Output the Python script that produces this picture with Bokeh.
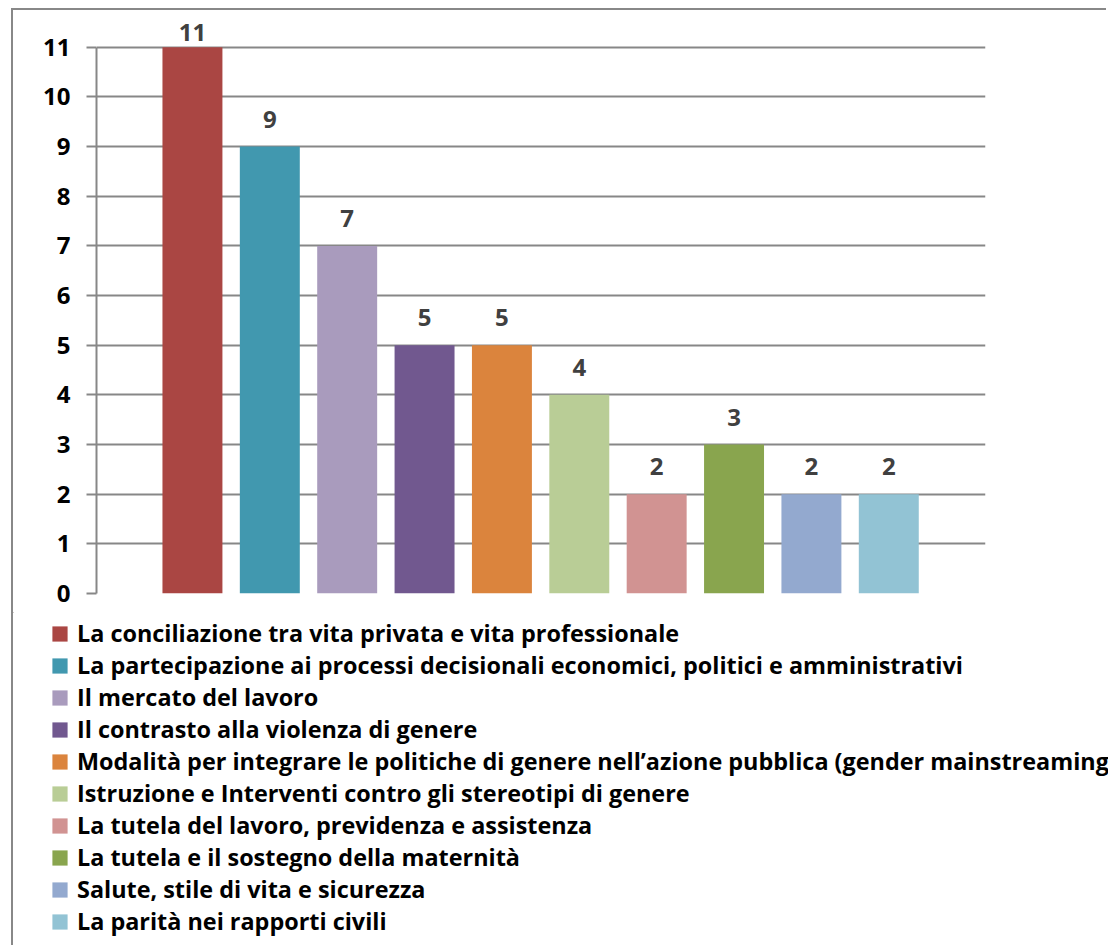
from bokeh.plotting import figure
from bokeh.models import ColumnDataSource, Legend, LegendItem, Range1d, FixedTicker
from bokeh.core.properties import value
from bokeh.embed import file_html
from bokeh.resources import INLINE

categories = [
    "La conciliazione tra vita privata e vita professionale",
    "La partecipazione ai processi decisionali economici, politici e amministrativi",
    "Il mercato del lavoro",
    "Il contrasto alla violenza di genere",
    "Modalità per integrare le politiche di genere nell\u2019azione pubblica (gender mainstreaming)",
    "Istruzione e Interventi contro gli stereotipi di genere",
    "La tutela del lavoro, previdenza e assistenza",
    "La tutela e il sostegno della maternità",
    "Salute, stile di vita e sicurezza",
    "La parità nei rapporti civili",
]
counts = [11, 9, 7, 5, 5, 4, 2, 3, 2, 2]
colors = ["#AA4643", "#4198AF", "#A99BBD", "#71588F", "#DB843D",
          "#B9CD96", "#D19392", "#89A54E", "#93A9CF", "#92C3D4"]
y_ticks = list(range(0, 12))

FONT = "Open Sans"
FS = "24px"
LEG_FS = "23.4px"
BORDER = "2px solid #888888"

# plot geometry
PH = 604
FRAME_H = 583
Y_END = 11.74
ppu = FRAME_H / Y_END
CAP = 17        # digit height in px
TOP_PAD = 12    # keep labels inside the chart area
GAP = 20        # normal gap between bar top and label


def label_offset(c):
    room = (Y_END - c) * ppu - CAP - TOP_PAD
    gap = min(GAP, max(room, 2))
    return -(gap - 1)


x = list(range(len(categories)))
src = ColumnDataSource(dict(x=x, top=counts, color=colors, cat=categories,
                            lbl=[str(c) for c in counts],
                            off=[label_offset(c) for c in counts]))

# ---- chart ----
p = figure(width=1095, height=PH, output_backend="svg", toolbar_location=None,
           x_axis_location=None,
           x_range=Range1d(-1.24, 10.25), y_range=Range1d(0, Y_END),
           min_border_left=83, min_border_right=123, min_border_top=0,
           min_border_bottom=PH - FRAME_H)
p.outline_line_color = None
p.styles = {"margin-left": "11px", "margin-top": "8px",
            "border-left": BORDER, "border-top": BORDER}

p.vbar(x="x", top="top", width=0.775, bottom=0, fill_color="color",
       line_color=None, source=src)

p.text(x="x", y="top", text="lbl", source=src, text_align="center",
       text_baseline="bottom", y_offset="off", text_color="#404040",
       text_font=value(FONT), text_font_style="bold", text_font_size=FS)

p.xgrid.visible = False
p.ygrid.grid_line_color = "#878787"
p.ygrid.grid_line_width = 2
p.yaxis.ticker = FixedTicker(ticks=y_ticks)
p.yaxis.bounds = (y_ticks[0], y_ticks[-1])
p.yaxis.minor_tick_line_color = None
p.yaxis.major_tick_in = 0
p.yaxis.major_tick_out = 10
p.yaxis.major_tick_line_color = "#878787"
p.yaxis.major_tick_line_width = 2
p.yaxis.axis_line_color = "#878787"
p.yaxis.axis_line_width = 2
p.yaxis.major_label_standoff = 16
p.yaxis.major_label_text_font = FONT
p.yaxis.major_label_text_font_style = "bold"
p.yaxis.major_label_text_font_size = FS
p.yaxis.major_label_text_color = "#000000"

# ---- legend (own canvas so that it is not clipped) ----
LH = 333
lp = figure(width=1095, height=LH, output_backend="svg", toolbar_location=None,
            x_axis_location=None, y_axis_location=None,
            x_range=Range1d(100, 101), y_range=Range1d(-2, -1),
            min_border_left=0, min_border_right=0, min_border_top=0,
            min_border_bottom=0)
lp.outline_line_color = None
lp.grid.visible = False
lp.styles = {"margin-left": "11px", "border-left": BORDER}
lr = lp.vbar(x="x", top="top", width=0.775, bottom=0, fill_color="color",
             line_color=None, source=src)

items = [LegendItem(label=categories[i], renderers=[lr], index=i) for i in x]
legend = Legend(items=items, location=(37, 8),
                padding=0, margin=0, spacing=0, glyph_width=19, glyph_height=19,
                label_standoff=8, label_height=32, border_line_color=None,
                background_fill_alpha=0,
                label_text_font=FONT, label_text_font_style="bold",
                label_text_font_size=LEG_FS, label_text_color="#000000")
lp.add_layout(legend)

open("out.html", "w").write(file_html([p, lp], INLINE))
